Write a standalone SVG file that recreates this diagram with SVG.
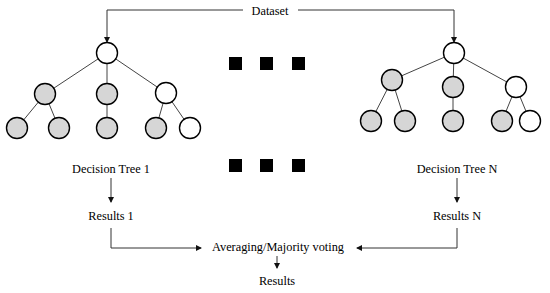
<svg xmlns="http://www.w3.org/2000/svg" width="550" height="293" viewBox="0 0 550 293">
<style>
.t{font-family:"Liberation Serif","Times New Roman",serif;font-size:12.3px;fill:#000;text-anchor:middle}
.w{fill:#fff;stroke:#000;stroke-width:1.4}
.g{fill:#d6d6d6;stroke:#000;stroke-width:1.4}
.e{stroke:#444;stroke-width:1;fill:none}
.a{stroke:#333;stroke-width:1;fill:none}
.sq{fill:#000}
</style>
<defs>
<marker id="ah" markerWidth="6" markerHeight="6" refX="5" refY="3" orient="auto" markerUnits="userSpaceOnUse">
<path d="M0,0 L6,3 L0,6 z" fill="#111"/>
</marker>
</defs>
<rect width="550" height="293" fill="#fff"/>
<g id="connectors">
<line class="e" x1="107" y1="53" x2="45" y2="94"/>
<line class="e" x1="107" y1="53" x2="107" y2="94"/>
<line class="e" x1="107" y1="53" x2="166" y2="93"/>
<line class="e" x1="45" y1="94" x2="17" y2="128"/>
<line class="e" x1="45" y1="94" x2="59" y2="128"/>
<line class="e" x1="107" y1="94" x2="107" y2="128"/>
<line class="e" x1="166" y1="93" x2="156" y2="128"/>
<line class="e" x1="166" y1="93" x2="190" y2="128"/>
<line class="e" x1="454" y1="53" x2="392" y2="80"/>
<line class="e" x1="454" y1="53" x2="453" y2="87"/>
<line class="e" x1="454" y1="53" x2="516" y2="87"/>
<line class="e" x1="392" y1="80" x2="371" y2="121"/>
<line class="e" x1="392" y1="80" x2="405" y2="121"/>
<line class="e" x1="453" y1="87" x2="453" y2="121"/>
<line class="e" x1="516" y1="87" x2="502" y2="121"/>
<line class="e" x1="516" y1="87" x2="530" y2="121"/>
<polyline class="a" points="243,10 107,10 107,42" marker-end="url(#ah)"/>
<polyline class="a" points="298,10 454,10 454,42" marker-end="url(#ah)"/>
<line class="a" x1="111" y1="178" x2="111" y2="202" marker-end="url(#ah)"/>
<line class="a" x1="457" y1="178" x2="457" y2="202" marker-end="url(#ah)"/>
<polyline class="a" points="111,228 111,248 201,248" marker-end="url(#ah)"/>
<polyline class="a" points="457,228 457,248 357,248" marker-end="url(#ah)"/>
<line class="a" x1="277" y1="256" x2="277" y2="268" marker-end="url(#ah)"/>
</g>
<g id="dataset"><text class="t" x="270" y="15">Dataset</text></g>
<g id="tree1">
<g id="t1-root"><circle class="w" cx="107" cy="53" r="10.5"/></g>
<g id="t1-n1"><circle class="g" cx="45" cy="94" r="10.5"/></g>
<g id="t1-n2"><circle class="g" cx="107" cy="94" r="10.5"/></g>
<g id="t1-n3"><circle class="w" cx="166" cy="93" r="10.5"/></g>
<g id="t1-l1"><circle class="g" cx="17" cy="128" r="10.5"/></g>
<g id="t1-l2"><circle class="g" cx="59" cy="128" r="10.5"/></g>
<g id="t1-l3"><circle class="g" cx="107" cy="128" r="10.5"/></g>
<g id="t1-l4"><circle class="g" cx="156" cy="128" r="10.5"/></g>
<g id="t1-l5"><circle class="w" cx="190" cy="128" r="10.5"/></g>
</g>
<g id="treeN">
<g id="tN-root"><circle class="w" cx="454" cy="53" r="10.5"/></g>
<g id="tN-n1"><circle class="g" cx="392" cy="80" r="10.5"/></g>
<g id="tN-n2"><circle class="g" cx="453" cy="87" r="10.5"/></g>
<g id="tN-n3"><circle class="w" cx="516" cy="87" r="10.5"/></g>
<g id="tN-l1"><circle class="g" cx="371" cy="121" r="10.5"/></g>
<g id="tN-l2"><circle class="g" cx="405" cy="121" r="10.5"/></g>
<g id="tN-l3"><circle class="g" cx="453" cy="121" r="10.5"/></g>
<g id="tN-l4"><circle class="g" cx="502" cy="121" r="10.5"/></g>
<g id="tN-l5"><circle class="w" cx="530" cy="121" r="10.5"/></g>
</g>
<g id="dots-top">
<rect class="sq" x="229" y="57" width="13" height="13"/>
<rect class="sq" x="260" y="57" width="13" height="13"/>
<rect class="sq" x="292" y="57" width="13" height="13"/>
</g>
<g id="dots-bottom">
<rect class="sq" x="229" y="159" width="13" height="13"/>
<rect class="sq" x="260" y="159" width="13" height="13"/>
<rect class="sq" x="292" y="159" width="13" height="13"/>
</g>
<g id="label-tree1"><text class="t" x="111" y="173">Decision Tree 1</text></g>
<g id="label-treeN"><text class="t" x="457" y="173">Decision Tree N</text></g>
<g id="results1"><text class="t" x="111" y="220">Results 1</text></g>
<g id="resultsN"><text class="t" x="457" y="220">Results N</text></g>
<g id="averaging"><text class="t" x="278" y="251">Averaging/Majority voting</text></g>
<g id="results"><text class="t" x="277" y="285">Results</text></g>
</svg>
